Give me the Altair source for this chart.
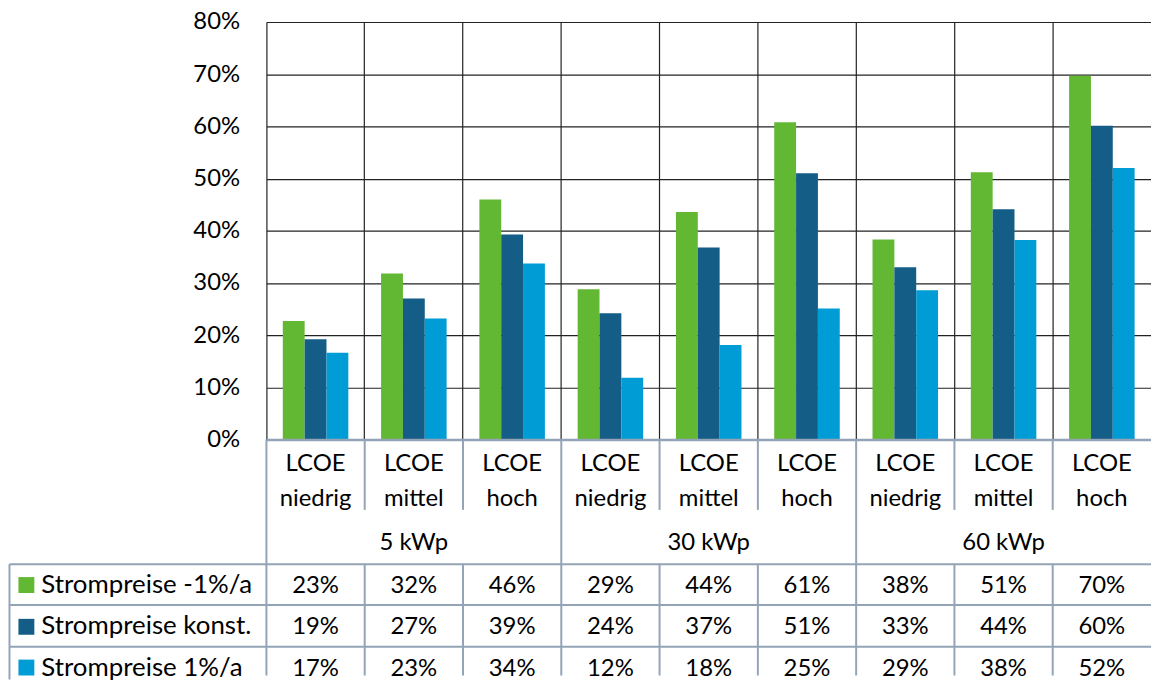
import json
import altair as alt
import pandas as pd

groups = ["5 kWp", "30 kWp", "60 kWp"]
lcoe = ["niedrig", "mittel", "hoch"]
series = ["Strompreise -1%/a", "Strompreise konst.", "Strompreise 1%/a"]
colors = ["#62B733", "#135D86", "#009CD5"]
v_minus = [0.227, 0.318, 0.460, 0.288, 0.436, 0.608, 0.383, 0.512, 0.697]
v_konst = [0.192, 0.270, 0.393, 0.242, 0.368, 0.510, 0.330, 0.441, 0.601]
v_plus = [0.166, 0.232, 0.337, 0.118, 0.181, 0.251, 0.286, 0.382, 0.520]
y_ticks = [0, 0.1, 0.2, 0.3, 0.4, 0.5, 0.6, 0.7, 0.8]

LINE = "#93A4B7"
GRID = "#222222"
FONT = "Lato"
FS = 24
W = 890

cols = [f"{g}|{l}" for g in groups for l in lcoe]
rows = ["kopf1", "kopf2", "gruppe"] + series

records = []
for s, vals in zip(series, [v_minus, v_konst, v_plus]):
    for c, v in zip(cols, vals):
        records.append({"col": c, "series": s, "value": v})
df = pd.DataFrame(records)

hdr = pd.DataFrame({
    "col": cols,
    "l1": ["LCOE"] * len(cols),
    "l2": [l for g in groups for l in lcoe],
    "r1": ["kopf1"] * len(cols),
    "r2": ["kopf2"] * len(cols),
})
grp = pd.DataFrame({
    "col": [f"{g}|{lcoe[1]}" for g in groups],
    "label": groups,
    "row": ["gruppe"] * len(groups),
})
vr = []
for i, c in enumerate(cols):
    if i % 3 == 0:
        vr.append({"col": c, "y1": "kopf1", "y2": series[-1]})
    else:
        vr.append({"col": c, "y1": "kopf1", "y2": "kopf2"})
        vr.append({"col": c, "y1": series[0], "y2": series[-1]})
vr = pd.DataFrame(vr)

xscale = alt.Scale(domain=cols, paddingInner=0, paddingOuter=0)

# ---------------- top: bar chart ----------------
bars = alt.Chart(df).mark_bar().encode(
    x=alt.X("col:N", scale=xscale, sort=cols, axis=alt.Axis(
        title=None, labels=False, ticks=False, domain=True, domainColor=LINE,
        domainWidth=2.5, grid=True, gridColor=GRID, gridWidth=1.2,
        bandPosition=0, zindex=1)),
    xOffset=alt.XOffset("series:N", sort=series,
                        scale=alt.Scale(domain=series, paddingInner=0, paddingOuter=0.75)),
    y=alt.Y("value:Q", scale=alt.Scale(domain=[0, 0.8], nice=False), axis=alt.Axis(
        values=y_ticks, format=".0%", title=None, ticks=False, domain=False,
        grid=True, gridColor=GRID, gridWidth=1.2, labelFontSize=FS, labelFont=FONT,
        labelColor="black", labelPadding=27)),
    color=alt.Color("series:N", scale=alt.Scale(domain=series, range=colors), legend=None),
).properties(width=W, height=420)

# ---------------- bottom: data table ----------------
yscale = alt.Scale(domain=rows, paddingInner=0, paddingOuter=0, range=[0, 250])
lab_axis = alt.Axis(
    values=series, bandPosition=0, title=None,
    ticks=True, tickSize=259, tickColor=LINE, tickWidth=2,
    labels=True, labelAlign="left", labelPadding=-32, labelOffset=8.5,
    labelBaseline="alphabetic", labelFontSize=26, labelFont=FONT,
    labelColor="black", labelLimit=400,
    grid=True, gridColor=LINE, gridWidth=2,
    domain=False,
)
xt = alt.X("col:N", scale=xscale, sort=cols, axis=None)

h1 = alt.Chart(hdr).mark_text(fontSize=FS, font=FONT, baseline="alphabetic", dy=11).encode(
    x=xt, y=alt.Y("r1:N", scale=yscale, axis=lab_axis), text="l1:N")
h2 = alt.Chart(hdr).mark_text(fontSize=FS, font=FONT, baseline="alphabetic", dy=4).encode(
    x=xt, y=alt.Y("r2:N", scale=yscale, axis=lab_axis), text="l2:N")
gt = alt.Chart(grp).mark_text(fontSize=FS, font=FONT, baseline="alphabetic", dy=7).encode(
    x=xt, y=alt.Y("row:N", scale=yscale, axis=lab_axis), text="label:N")
vt = alt.Chart(df).mark_text(fontSize=FS, font=FONT, baseline="alphabetic", dy=8.5).encode(
    x=xt, y=alt.Y("series:N", scale=yscale, axis=lab_axis),
    text=alt.Text("value:Q", format=".0%"))
rules = alt.Chart(vr).mark_rule(color=LINE, strokeWidth=2).encode(
    x=alt.X("col:N", scale=xscale, sort=cols, axis=None, bandPosition=0),
    y=alt.Y("y1:N", scale=yscale, axis=lab_axis, bandPosition=0),
    y2=alt.Y2("y2:N", bandPosition=0.7),
)
table_main = alt.layer(rules, h1, h2, gt, vt)

cond = [{"test": f"datum.value === {json.dumps(s)}", "value": c}
        for s, c in zip(series[:-1], colors[:-1])]
sw_axis = alt.Axis(
    values=series, orient="left", offset=234, bandPosition=0.5, title=None,
    labels=False, domain=False, grid=False, ticks=True, tickSize=16, tickWidth=16,
    tickCap="butt", tickColor={"condition": cond, "value": colors[-1]},
)
swatch = alt.Chart(pd.DataFrame({"series": series})).mark_point(opacity=0).encode(
    y=alt.Y("series:N", scale=alt.Scale(domain=rows, paddingInner=0, paddingOuter=0,
                                        range=[0, 250]),
            axis=sw_axis),
)
# left border of the legend column (axis domain spanning only the data rows)
border_axis = alt.Axis(
    orient="left", offset=259, title=None, labels=False, ticks=False, grid=False,
    domain=True, domainColor=LINE, domainWidth=2,
)
border = alt.Chart(pd.DataFrame({"series": series})).mark_point(opacity=0).encode(
    y=alt.Y("series:N", scale=alt.Scale(domain=series, paddingInner=0, paddingOuter=0,
                                        range=[125, 241]),
            axis=border_axis),
)
table = alt.layer(table_main, swatch, border).resolve_scale(y="independent").properties(
    width=W, height=240)

chart = alt.vconcat(bars, table, spacing=0, bounds="flush").properties(
    padding=0).configure_view(stroke=None).configure_text(font=FONT)

chart.save("out.html", embed_options={"renderer": "svg", "actions": False})
